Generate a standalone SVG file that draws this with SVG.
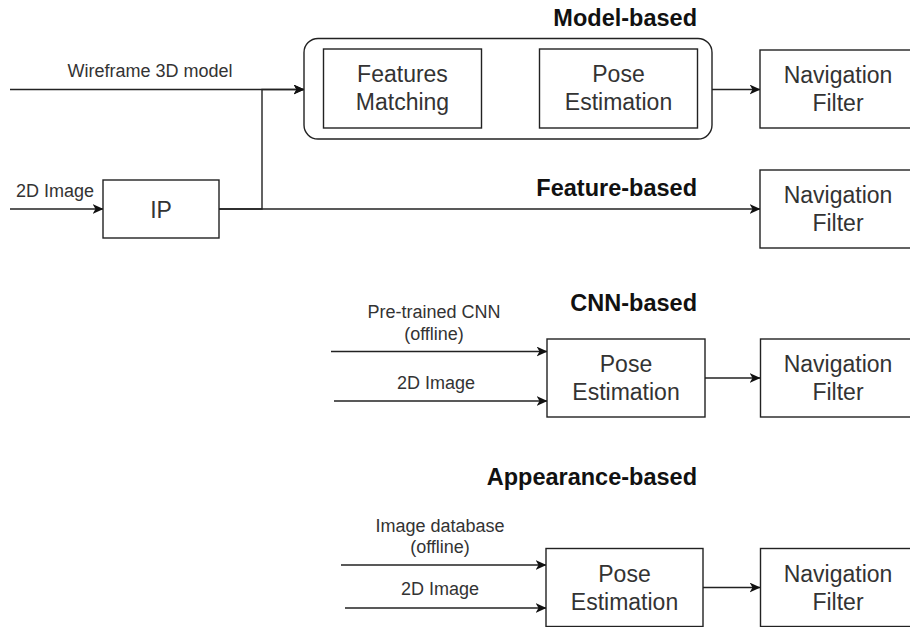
<svg xmlns="http://www.w3.org/2000/svg" width="910" height="627" viewBox="0 0 910 627">
<defs>
<marker id="arr" viewBox="0 0 11 10" markerWidth="11" markerHeight="10" refX="10.5" refY="5" orient="auto" markerUnits="userSpaceOnUse">
<path d="M0,0 L11,5 L0,10 L3,5 z" fill="#111"/>
</marker>
<style>
.box{fill:#fff;stroke:#222;stroke-width:1.4}
.t{font-family:"Liberation Sans",Arial,sans-serif;font-size:23px;fill:#333;text-anchor:middle}
.lbl{font-family:"Liberation Sans",Arial,sans-serif;font-size:18px;fill:#333;text-anchor:middle}
.ttl{font-family:"Liberation Sans",Arial,sans-serif;font-size:23.5px;font-weight:bold;fill:#111;text-anchor:end}
.c{fill:none;stroke:#222;stroke-width:1.4}
.ca{fill:none;stroke:#222;stroke-width:1.4;marker-end:url(#arr)}
</style>
</defs>
<rect width="910" height="627" fill="#fff"/>

<g id="titles">
<text class="ttl" x="697" y="26">Model-based</text>
<text class="ttl" x="697" y="196">Feature-based</text>
<text class="ttl" x="697" y="311">CNN-based</text>
<text class="ttl" x="697" y="485">Appearance-based</text>
</g>

<g id="connectors">
<path class="ca" d="M10,89.5 H304"/>
<path class="ca" d="M219,209 H262 V89.5 H304"/>
<path class="ca" d="M10,209 H103"/>
<path class="ca" d="M219,209 H760"/>
<path class="ca" d="M482,89.5 H539"/>
<path class="ca" d="M712,89.5 H760"/>
<path class="ca" d="M331,351.5 H547"/>
<path class="ca" d="M334,401 H547"/>
<path class="ca" d="M705,378 H760"/>
<path class="ca" d="M341,565 H546"/>
<path class="ca" d="M345,608 H546"/>
<path class="ca" d="M703,587.5 H760"/>
</g>

<g id="edge-labels">
<text class="lbl" x="150" y="77">Wireframe 3D model</text>
<text class="lbl" x="55" y="197">2D Image</text>
<text class="lbl" x="434" y="318">Pre-trained CNN</text>
<text class="lbl" x="434" y="340">(offline)</text>
<text class="lbl" x="436" y="389">2D Image</text>
<text class="lbl" x="440" y="532">Image database</text>
<text class="lbl" x="440" y="553">(offline)</text>
<text class="lbl" x="440" y="595">2D Image</text>
</g>

<g id="model-based-group">
<rect class="box" x="304" y="38.5" width="408" height="100.5" rx="14" ry="14"/>
</g>

<g id="features-matching">
<rect class="box" x="323.5" y="49" width="158" height="79"/>
<text class="t" x="402.5" y="82">Features</text>
<text class="t" x="402.5" y="110">Matching</text>
</g>

<g id="pose-estimation-1">
<rect class="box" x="539.5" y="49" width="158" height="79"/>
<text class="t" x="618.5" y="82">Pose</text>
<text class="t" x="618.5" y="110">Estimation</text>
</g>

<g id="nav-filter-1">
<rect class="box" x="760" y="50" width="156" height="78"/>
<text class="t" x="838" y="83">Navigation</text>
<text class="t" x="838" y="111">Filter</text>
</g>

<g id="ip">
<rect class="box" x="103" y="180" width="116" height="58"/>
<text class="t" x="161" y="217.5">IP</text>
</g>

<g id="nav-filter-2">
<rect class="box" x="760" y="170" width="156" height="78"/>
<text class="t" x="838" y="203">Navigation</text>
<text class="t" x="838" y="231">Filter</text>
</g>

<g id="pose-estimation-cnn">
<rect class="box" x="547" y="339" width="158" height="78"/>
<text class="t" x="626" y="371.5">Pose</text>
<text class="t" x="626" y="399.5">Estimation</text>
</g>

<g id="nav-filter-3">
<rect class="box" x="760.5" y="339" width="156" height="78"/>
<text class="t" x="838" y="371.5">Navigation</text>
<text class="t" x="838" y="399.5">Filter</text>
</g>

<g id="pose-estimation-app">
<rect class="box" x="546" y="548.5" width="157" height="78"/>
<text class="t" x="624.5" y="581.5">Pose</text>
<text class="t" x="624.5" y="609.5">Estimation</text>
</g>

<g id="nav-filter-4">
<rect class="box" x="760.5" y="548.5" width="156" height="78"/>
<text class="t" x="838" y="581.5">Navigation</text>
<text class="t" x="838" y="609.5">Filter</text>
</g>
</svg>
